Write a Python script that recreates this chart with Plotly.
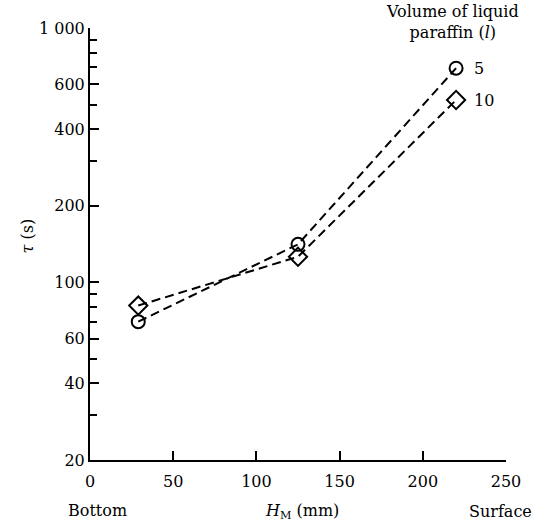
import math
import plotly.graph_objects as go

# data
h_m = [29, 125, 220]
tau_5 = [70, 141, 695]
tau_10 = [81, 126, 521]
series_names = ["5", "10"]

y_major = [20, 40, 60, 100, 200, 400, 600, 1000]
y_major_text = ["20", "40", "60", "100", "200", "400", "600", "1 000"]
y_minor = [30, 50, 70, 80, 90, 300, 500, 700, 800, 900]
x_ticks = [0, 50, 100, 150, 200, 250]

W, H = 539, 524
L, R, T, B = 90, 506, 28, 460
FONT = dict(family="DejaVu Serif, Liberation Serif, serif", size=16, color="black")


def px(x, y):
    # pixel position -> paper coords
    return (x - L) / (R - L), (B - y) / (B - T)


fig = go.Figure()
line = dict(color="black", width=2, dash="9px,5px")
fig.add_trace(go.Scatter(
    x=h_m, y=tau_5, mode="lines+markers", name=series_names[0], line=line,
    marker=dict(symbol="circle-open", size=13, color="black", line=dict(width=2)),
))
fig.add_trace(go.Scatter(
    x=h_m, y=tau_10, mode="lines+markers", name=series_names[1], line=line,
    marker=dict(symbol="diamond-open", size=14, color="black", line=dict(width=2)),
))

# series labels next to the last points (log axis -> log10 positions)
for ys, name in [(tau_5, series_names[0]), (tau_10, series_names[1])]:
    fig.add_annotation(x=h_m[-1], y=math.log10(ys[-1]), xref="x", yref="y",
                       text=name, showarrow=False, xanchor="left", xshift=16,
                       font=FONT)

texts = [
    ("Volume of liquid<br>paraffin (<i>l</i>)", 452, 22),
    ("Bottom", 97, 510),
    ("<i>H</i><sub>M</sub> (mm)", 302, 511),
    ("Surface", 500, 511),
]
for txt, x, y in texts:
    xp, yp = px(x, y)
    fig.add_annotation(x=xp, y=yp, xref="paper", yref="paper", text=txt,
                       showarrow=False, xanchor="center", yanchor="middle",
                       font=FONT)

xp, yp = px(15, 236)
fig.add_annotation(x=xp, y=yp, xref="paper", yref="paper", text="<i>τ</i> (s)",
                   showarrow=False, textangle=-90, font=FONT)

fig.update_xaxes(
    range=[0, 250], tickvals=x_ticks, ticks="inside", ticklen=9, tickwidth=1.5,
    tickcolor="black", showline=True, linewidth=2, linecolor="black",
    showgrid=False, zeroline=False, tickfont=FONT, ticklabelstandoff=6,
)
fig.update_yaxes(
    type="log", range=[math.log10(20), 3], tickvals=y_major, ticktext=y_major_text,
    ticks="inside", ticklen=9, tickwidth=1.5, tickcolor="black",
    minor=dict(tickvals=y_minor, ticks="inside", ticklen=7, tickwidth=1.5,
               tickcolor="black", showgrid=False),
    showline=True, linewidth=2, linecolor="black", showgrid=False,
    zeroline=False, tickfont=FONT,
)
fig.update_layout(
    width=W, height=H, showlegend=False,
    margin=dict(l=L, r=W - R, t=T, b=H - B),
    plot_bgcolor="white", paper_bgcolor="white", font=FONT,
)

# drop the default body margin so the figure fills the window
fig.write_html("out.html", config={"displayModeBar": False},
               post_script="document.body.style.margin='0';")
